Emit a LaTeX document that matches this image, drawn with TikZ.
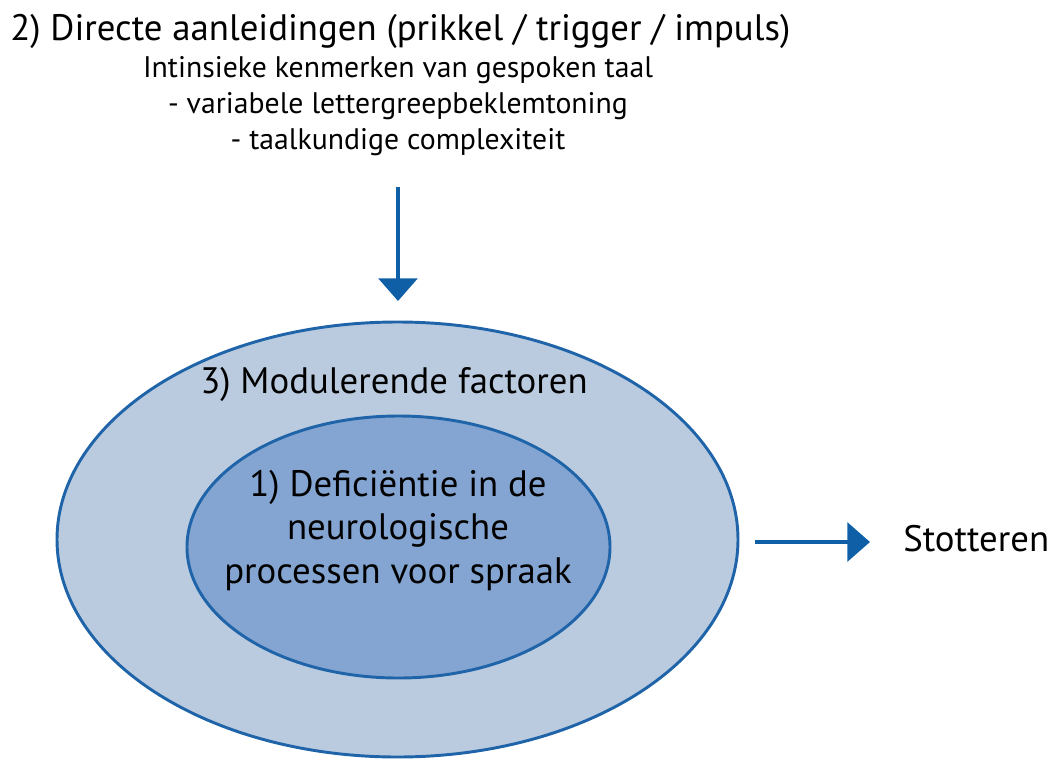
\documentclass[tikz,border=0pt]{standalone}
\usepackage{fontspec}
\setmainfont{PT Sans}
\usetikzlibrary{arrows.meta}
\definecolor{outerfill}{HTML}{BACBDF}
\definecolor{innerfill}{HTML}{84A5D1}
\definecolor{edge}{HTML}{1F64A8}
\definecolor{arrowc}{HTML}{0F5FA6}
\begin{document}
\begin{tikzpicture}[x=0.75pt,y=-0.75pt,
  bigtxt/.style={font=\fontsize{27.6}{33}\selectfont,inner sep=0pt},
  smalltxt/.style={font=\fontsize{22.3}{27}\selectfont,inner sep=0pt,align=center},
  flow/.style={draw=arrowc,line width=3.2pt,-{Triangle[length=17pt,width=29pt]}}]
\useasboundingbox (0,0) rectangle (1055,760);
\fill[outerfill,draw=edge,line width=2.2pt] (397.5,539.5) ellipse [x radius=340.5,y radius=217.5];
\fill[innerfill,draw=edge,line width=2.2pt] (398.5,547) ellipse [x radius=211.5,y radius=131];
\node[bigtxt,anchor=base west] (title) at (10,40) {2) Directe aanleidingen (prikkel / trigger / impuls)};
\node[smalltxt,anchor=base] (l1) at (398,77) {Intinsieke kenmerken van gespoken taal};
\node[smalltxt,anchor=base] (l2) at (398,113) {- variabele lettergreepbeklemtoning};
\node[smalltxt,anchor=base] (l3) at (398,149) {- taalkundige complexiteit};
\node[bigtxt,anchor=base] (mod) at (394,393) {3) Modulerende factoren};
\node[bigtxt,anchor=base] (def) at (398,496) {1) Deficiëntie in de};
\node[bigtxt,anchor=base] (def2) at (398,539) {neurologische};
\node[bigtxt,anchor=base] (def3) at (398,583) {processen voor spraak};
\node[bigtxt,anchor=base west] (stot) at (903,551) {Stotteren};
\coordinate (a1s) at (398,187);
\coordinate (a1e) at (398,301);
\coordinate (a2s) at (755,542);
\coordinate (a2e) at (870,542);
\draw[flow] (a1s) -- (a1e);
\draw[flow] (a2s) -- (a2e);
\end{tikzpicture}
\end{document}
